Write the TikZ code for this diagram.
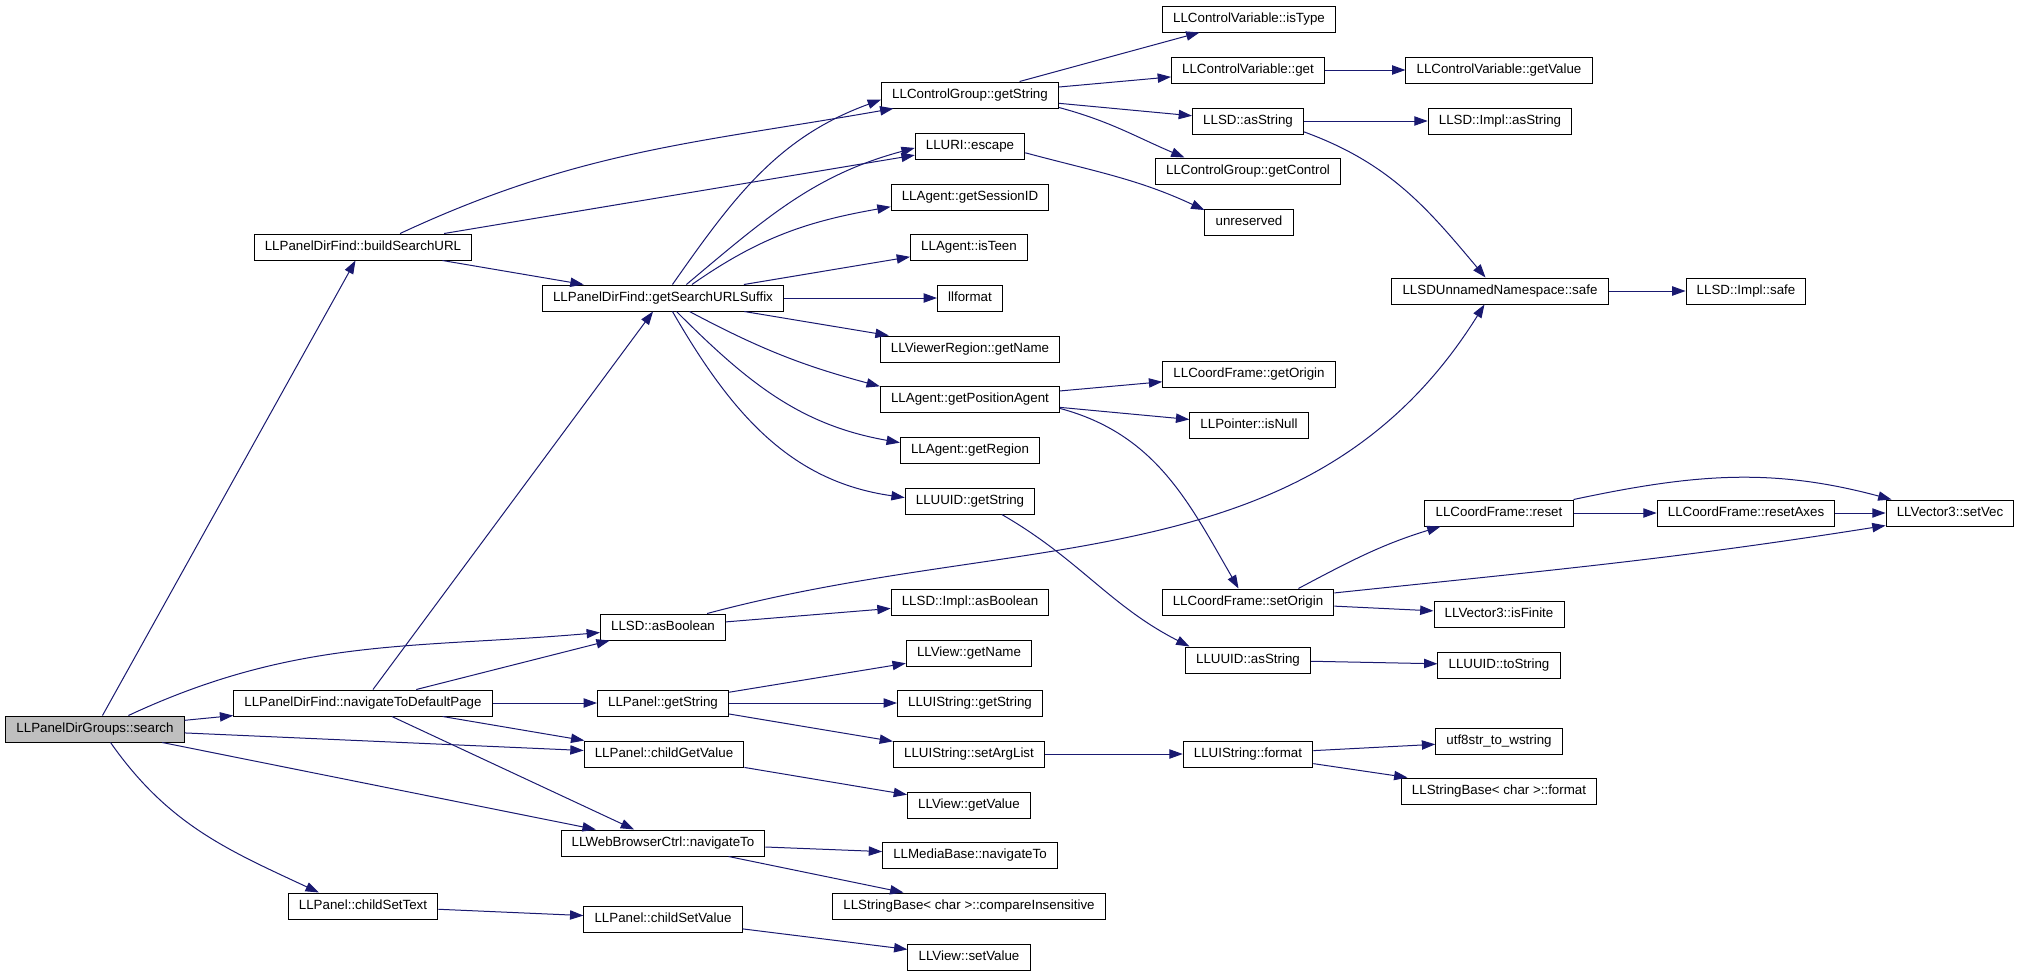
\documentclass[tikz,border=0pt]{standalone}
\usepackage{fontspec}
\setmainfont{Liberation Sans}
\usetikzlibrary{arrows.meta}
\definecolor{callblue}{HTML}{191970}
\definecolor{rootgray}{HTML}{BFBFBF}

\begin{document}
\begin{tikzpicture}[x=0.75pt,y=0.75pt,
    fn/.style={draw=black,line width=0.75pt,fill=white,minimum height=19.5pt,
      inner xsep=8pt,inner ysep=0pt,text height=7.3pt,text depth=2.1pt,
      font=\fontsize{10}{12}\selectfont},
    call/.style={->,draw=callblue,line width=0.75pt},
    >={Triangle[length=10pt,width=7pt]}]
  \useasboundingbox (0,0) rectangle (2021,-975);

  % columns of the call graph
  \node[fn,fill=rootgray] (search) at (95,-729) {LLPanelDirGroups::search};

  \node[fn] (buildURL) at (363,-247) {LLPanelDirFind::buildSearchURL};
  \node[fn] (navDP) at (363,-703) {LLPanelDirFind::navigateToDefaultPage};
  \node[fn] (setText) at (363,-906) {LLPanel::childSetText};

  \node[fn] (suffix) at (663,-298) {LLPanelDirFind::getSearchURLSuffix};
  \node[fn] (asBool) at (663,-627) {LLSD::asBoolean};
  \node[fn] (panelGetString) at (663,-703) {LLPanel::getString};
  \node[fn] (childGetValue) at (664,-754) {LLPanel::childGetValue};
  \node[fn] (webNav) at (663,-843) {LLWebBrowserCtrl::navigateTo};
  \node[fn] (childSetValue) at (663,-919) {LLPanel::childSetValue};

  \node[fn] (cgGetString) at (970,-95) {LLControlGroup::getString};
  \node[fn] (escape) at (970,-146) {LLURI::escape};
  \node[fn] (sessionID) at (970,-197) {LLAgent::getSessionID};
  \node[fn] (isTeen) at (969,-247) {LLAgent::isTeen};
  \node[fn] (llformat) at (970,-298) {llformat};
  \node[fn] (viewerRegion) at (970,-349) {LLViewerRegion::getName};
  \node[fn] (posAgent) at (970,-399) {LLAgent::getPositionAgent};
  \node[fn] (getRegion) at (970,-450) {LLAgent::getRegion};
  \node[fn] (uuidGetString) at (970,-501) {LLUUID::getString};
  \node[fn] (implAsBool) at (970,-602) {LLSD::Impl::asBoolean};
  \node[fn] (viewGetName) at (969,-653) {LLView::getName};
  \node[fn] (uiGetString) at (970,-703) {LLUIString::getString};
  \node[fn] (setArgList) at (969,-754) {LLUIString::setArgList};
  \node[fn] (viewGetValue) at (969,-805) {LLView::getValue};
  \node[fn] (mediaNav) at (970,-855) {LLMediaBase::navigateTo};
  \node[fn] (compareIns) at (969,-906) {LLStringBase< char >::compareInsensitive};
  \node[fn] (viewSetValue) at (969,-957) {LLView::setValue};

  \node[fn] (isType) at (1249,-19) {LLControlVariable::isType};
  \node[fn] (cvGet) at (1248,-70) {LLControlVariable::get};
  \node[fn] (sdAsString) at (1248,-121) {LLSD::asString};
  \node[fn] (getControl) at (1248,-171) {LLControlGroup::getControl};
  \node[fn] (unreserved) at (1249,-222) {unreserved};
  \node[fn] (getOrigin) at (1249,-374) {LLCoordFrame::getOrigin};
  \node[fn] (isNull) at (1249,-425) {LLPointer::isNull};
  \node[fn] (setOrigin) at (1248,-602) {LLCoordFrame::setOrigin};
  \node[fn] (uuidAsString) at (1248,-660) {LLUUID::asString};
  \node[fn] (uiFormat) at (1248,-754) {LLUIString::format};

  \node[fn] (cvGetValue) at (1499,-70) {LLControlVariable::getValue};
  \node[fn] (implAsString) at (1500,-121) {LLSD::Impl::asString};
  \node[fn] (safe) at (1500,-291) {LLSDUnnamedNamespace::safe};
  \node[fn] (reset) at (1499,-513) {LLCoordFrame::reset};
  \node[fn] (isFinite) at (1499,-614) {LLVector3::isFinite};
  \node[fn] (uuidToString) at (1499,-665) {LLUUID::toString};
  \node[fn] (utf8) at (1499,-741) {utf8str\_to\_wstring};
  \node[fn] (sbFormat) at (1499,-791) {LLStringBase< char >::format};

  \node[fn] (implSafe) at (1746,-291) {LLSD::Impl::safe};
  \node[fn] (resetAxes) at (1746,-513) {LLCoordFrame::resetAxes};

  \node[fn] (setVec) at (1950,-513) {LLVector3::setVec};

  % calls from the root
  \draw[call] (search) -- (buildURL);
  \draw[call] (search) -- (navDP);
  \draw[call] (search.22) to[out=25,in=185] (asBool.185);
  \draw[call] (search) -- (childGetValue);
  \draw[call] (search) -- (webNav);
  \draw[call] (search.-41) to[out=-55,in=155] (setText.163);

  \draw[call] (buildURL.20) to[out=25,in=190] (cgGetString.190);
  \draw[call] (buildURL) -- (escape);
  \draw[call] (buildURL) -- (suffix);

  \draw[call] (navDP) -- (suffix);
  \draw[call] (navDP) -- (asBool);
  \draw[call] (navDP) -- (panelGetString);
  \draw[call] (navDP) -- (childGetValue);
  \draw[call] (navDP) -- (webNav);

  \draw[call] (setText) -- (childSetValue);

  % getSearchURLSuffix fans out
  \draw[call] (suffix.55) to[out=55,in=200] (cgGetString.183);
  \draw[call] (suffix.30) to[out=40,in=195] (escape.182);
  \draw[call] (suffix.25) to[out=35,in=190] (sessionID.187);
  \draw[call] (suffix) -- (isTeen);
  \draw[call] (suffix) -- (llformat);
  \draw[call] (suffix) -- (viewerRegion);
  \draw[call] (suffix.-27) to[out=-28,in=165] (posAgent.172);
  \draw[call] (suffix.-45) to[out=-45,in=170] (getRegion.174);
  \draw[call] (suffix.-55) to[out=-60,in=172] (uuidGetString.177);

  \draw[call] (asBool) -- (implAsBool);
  \draw[call] (asBool.17) to[out=15,in=-122] (safe.-139);
  \draw[call] (panelGetString) -- (viewGetName);
  \draw[call] (panelGetString) -- (uiGetString);
  \draw[call] (panelGetString) -- (setArgList);
  \draw[call] (childGetValue) -- (viewGetValue);
  \draw[call] (webNav) -- (mediaNav);
  \draw[call] (webNav) -- (compareIns);
  \draw[call] (childSetValue) -- (viewSetValue);

  \draw[call] (cgGetString) -- (isType);
  \draw[call] (cgGetString) -- (cvGet);
  \draw[call] (cgGetString) -- (sdAsString);
  \draw[call] (cgGetString.-8) to[out=-15,in=157] (getControl.168);
  \draw[call] (escape.-7) to[out=-15,in=155] (unreserved.165);
  \draw[call] (posAgent) -- (getOrigin);
  \draw[call] (posAgent) -- (isNull);
  \draw[call] (posAgent.-6) to[out=-15,in=120] (setOrigin.125);
  \draw[call] (uuidGetString.-23) to[out=-30,in=153] (uuidAsString.167);
  \draw[call] (setArgList) -- (uiFormat);

  \draw[call] (cvGet) -- (cvGetValue);
  \draw[call] (sdAsString) -- (implAsString);
  \draw[call] (sdAsString.-11) to[out=-20,in=130] (safe.137);
  \draw[call] (setOrigin.15) to[out=28,in=197] (reset.193);
  \draw[call] (setOrigin.6) to[out=6,in=189] (setVec.191);
  \draw[call] (setOrigin) -- (isFinite);
  \draw[call] (uuidAsString) -- (uuidToString);
  \draw[call] (uiFormat) -- (utf8);
  \draw[call] (uiFormat) -- (sbFormat);

  \draw[call] (safe) -- (implSafe);
  \draw[call] (reset) -- (resetAxes);
  \draw[call] (reset.north east) to[out=12,in=165] (setVec.167);
  \draw[call] (resetAxes) -- (setVec);
\end{tikzpicture}
\end{document}
